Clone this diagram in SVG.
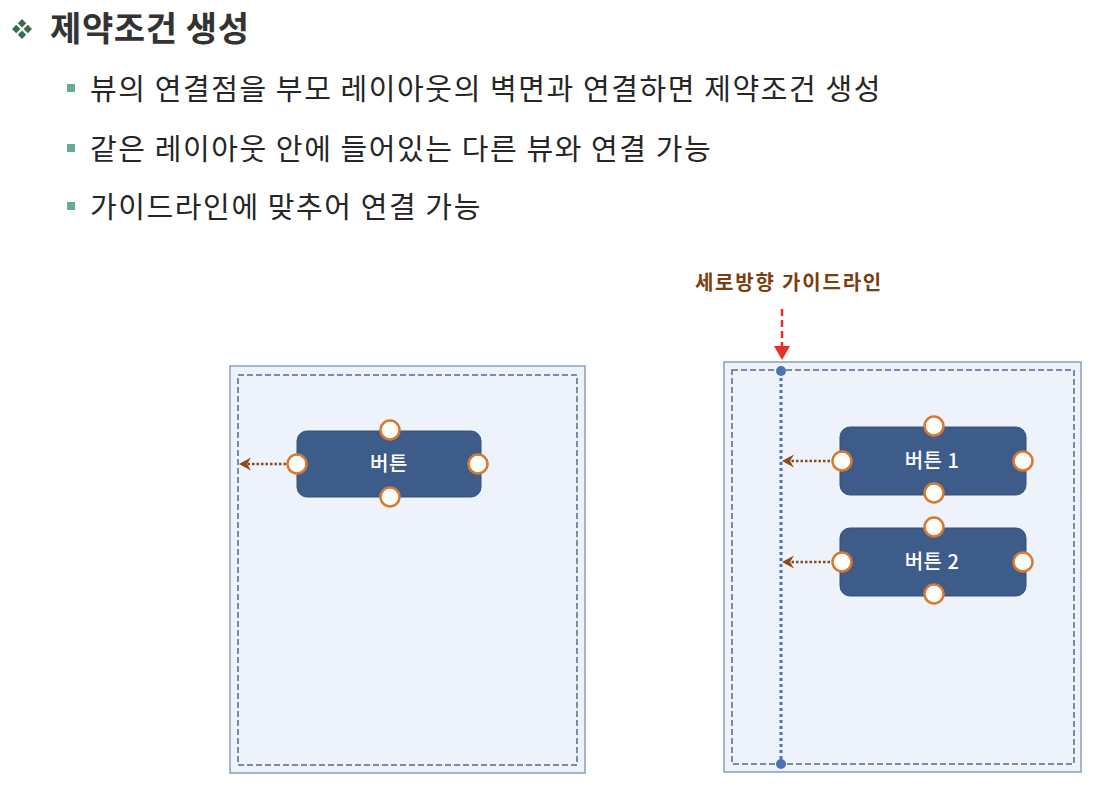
<svg xmlns="http://www.w3.org/2000/svg" width="1110" height="800" viewBox="0 0 1110 800">
<defs>
<style>
.title{font-family:"Noto Sans CJK KR","Noto Sans",sans-serif;font-size:34px;font-weight:bold;fill:#333333;letter-spacing:0.6px}
.bul{font-family:"Noto Sans CJK KR","Noto Sans",sans-serif;font-size:29px;fill:#262626;letter-spacing:1.6px}
.btxt{font-family:"Noto Sans CJK KR","Noto Sans",sans-serif;font-size:20px;font-weight:500;fill:#ffffff;letter-spacing:0.5px}
.lbl{font-family:"Noto Sans CJK KR","Noto Sans",sans-serif;font-size:20px;font-weight:bold;fill:#7a3e10;letter-spacing:1.8px}
.outer{fill:#eef2fa;stroke:#8c9dbd;stroke-width:1.5}
.inner{fill:none;stroke:#55698c;stroke-width:1.5;stroke-dasharray:6 3}
.btn{fill:#3e5c8a;stroke:#35507a;stroke-width:1}
.h{fill:#ffffff;stroke:#d9782e;stroke-width:2.5}
.conn{stroke:#8b4a16;stroke-width:2.5;stroke-dasharray:2.5 2;fill:none}
.head{fill:#8b4a16}
</style>
</defs>
<rect width="1110" height="800" fill="#ffffff"/>

<g id="title">
<g fill="#3b6b4f">
<path d="M22,19 L26.2,23.2 L22,27.4 L17.8,23.2 Z"/>
<path d="M22,30.6 L26.2,34.8 L22,39 L17.8,34.8 Z"/>
<path d="M16.2,24.8 L20.4,29 L16.2,33.2 L12,29 Z"/>
<path d="M27.8,24.8 L32,29 L27.8,33.2 L23.6,29 Z"/>
</g>
<text class="title" x="50" y="41">제약조건 생성</text>
</g>

<g id="bullets">
<rect x="67" y="84" width="8" height="8" fill="#6aaa90"/>
<text class="bul" x="90" y="100">뷰의 연결점을 부모 레이아웃의 벽면과 연결하면 제약조건 생성</text>
<rect x="67" y="144" width="8" height="8" fill="#6aaa90"/>
<text class="bul" x="90" y="160">같은 레이아웃 안에 들어있는 다른 뷰와 연결 가능</text>
<rect x="67" y="202" width="8" height="8" fill="#6aaa90"/>
<text class="bul" x="90" y="218">가이드라인에 맞추어 연결 가능</text>
</g>

<g id="layout-left">
<rect class="outer" x="230" y="366" width="355" height="407"/>
<rect class="inner" x="238" y="375" width="339" height="390"/>
</g>

<g id="layout-right">
<rect class="outer" x="724" y="362" width="357" height="410"/>
<rect class="inner" x="732" y="370" width="342" height="394"/>
</g>

<g id="guideline">
<line x1="781" y1="372" x2="781" y2="764" stroke="#4a72b8" stroke-width="3" stroke-dasharray="3 3"/>
<circle cx="781" cy="371" r="5" fill="#4a72b8"/>
<circle cx="781" cy="764" r="5" fill="#4a72b8"/>
</g>

<g id="guideline-label">
<text class="lbl" x="789" y="290" text-anchor="middle">세로방향 가이드라인</text>
</g>

<g id="connectors">
<line x1="782" y1="309" x2="782" y2="347" stroke="#e8302a" stroke-width="2.5" stroke-dasharray="7 4"/>
<path d="M774,346 L790,346 L782,360 Z" fill="#e8302a"/>
<line class="conn" x1="286" y1="464" x2="246" y2="464"/>
<path class="head" d="M251,457.5 L239,464 L251,470.5 L247,464 Z"/>
<line class="conn" x1="830" y1="461" x2="789" y2="461"/>
<path class="head" d="M794,454.5 L782,461 L794,467.5 L790,461 Z"/>
<line class="conn" x1="830" y1="562" x2="789" y2="562"/>
<path class="head" d="M794,555.5 L782,562 L794,568.5 L790,562 Z"/>
</g>

<g id="button">
<rect class="btn" x="297" y="431" width="184" height="66" rx="10"/>
<text class="btxt" x="389" y="471" text-anchor="middle">버튼</text>
<circle class="h" cx="390" cy="430" r="9.5"/>
<circle class="h" cx="390" cy="497" r="9.5"/>
<circle class="h" cx="297" cy="464" r="9.5"/>
<circle class="h" cx="478" cy="464" r="9.5"/>
</g>

<g id="button1">
<rect class="btn" x="840" y="427" width="186" height="68" rx="10"/>
<text class="btxt" x="932" y="468" text-anchor="middle">버튼 1</text>
<circle class="h" cx="934" cy="426" r="9.5"/>
<circle class="h" cx="934" cy="493" r="9.5"/>
<circle class="h" cx="842" cy="461" r="9.5"/>
<circle class="h" cx="1023" cy="461" r="9.5"/>
</g>

<g id="button2">
<rect class="btn" x="840" y="528" width="186" height="68" rx="10"/>
<text class="btxt" x="932" y="569" text-anchor="middle">버튼 2</text>
<circle class="h" cx="934" cy="527" r="9.5"/>
<circle class="h" cx="934" cy="594" r="9.5"/>
<circle class="h" cx="842" cy="562" r="9.5"/>
<circle class="h" cx="1023" cy="562" r="9.5"/>
</g>
</svg>
